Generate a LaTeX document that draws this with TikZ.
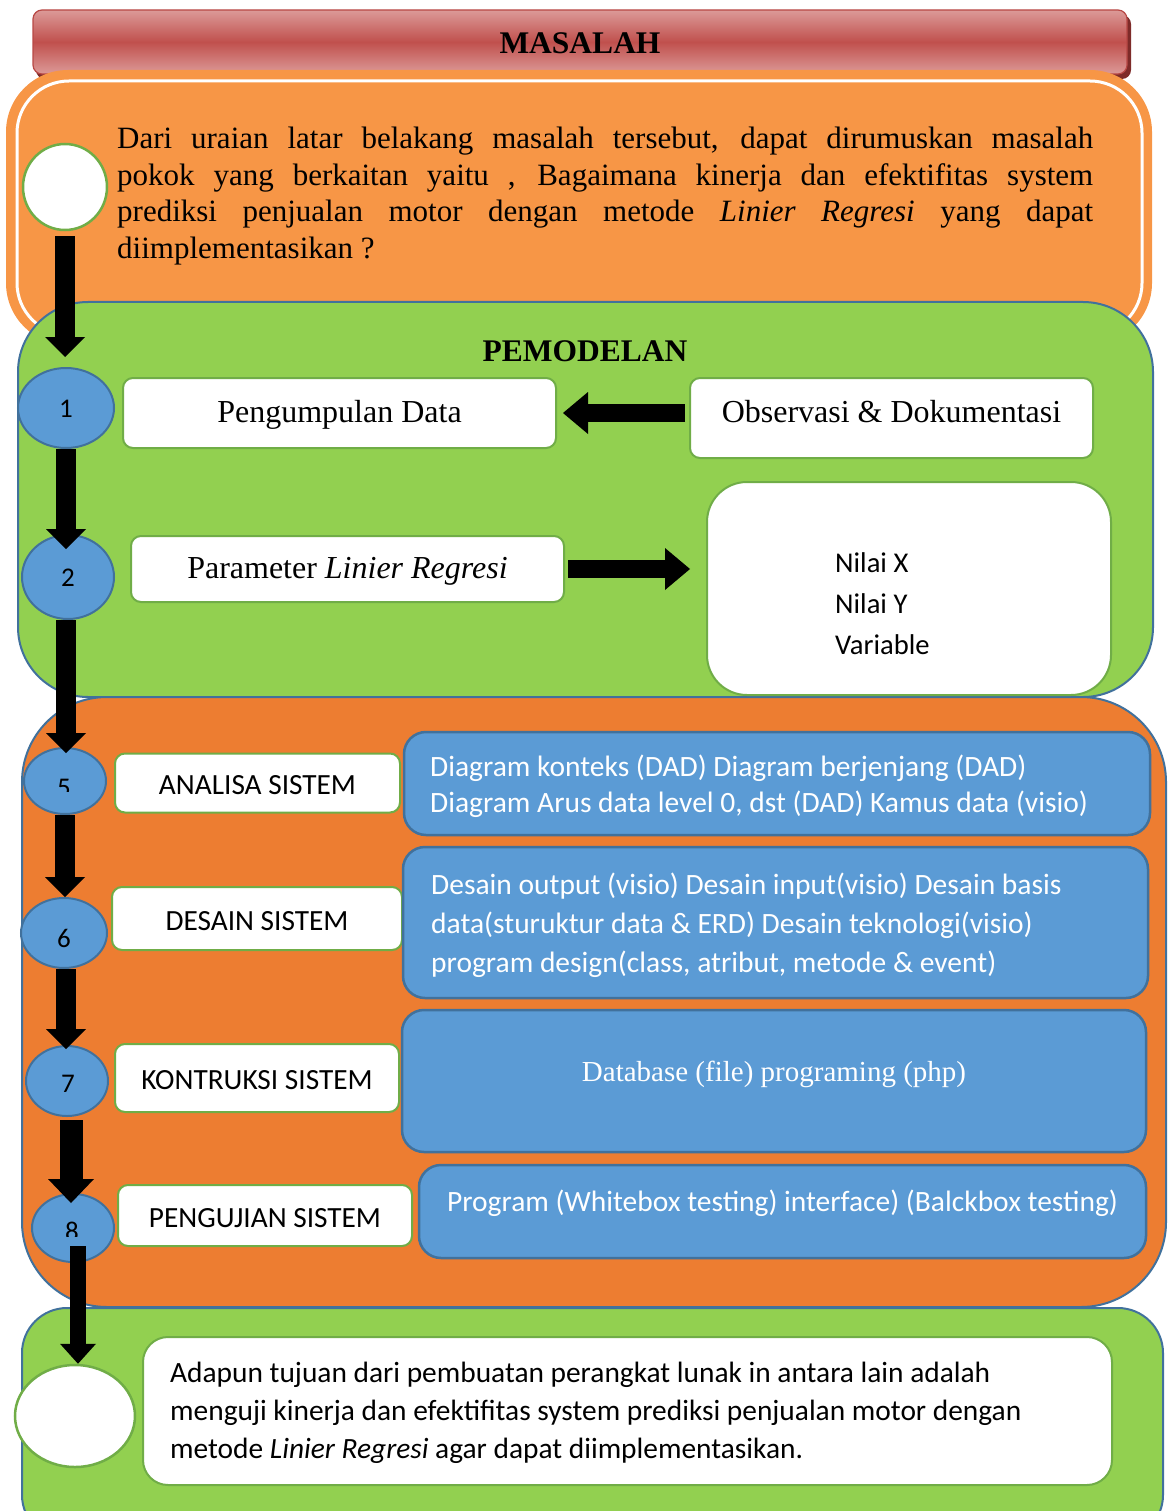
\documentclass[tikz,border=0pt]{standalone}
\usepackage{fontspec}
\setmainfont{Liberation Serif}
\newfontfamily\calibri{Carlito}
\usetikzlibrary{arrows.meta,shapes.geometric}

\definecolor{titleLight}{HTML}{DC9A98}
\definecolor{titleDark}{HTML}{C0504D}
\definecolor{titleEdge}{HTML}{B84845}
\definecolor{titleShadow}{HTML}{7E2B29}
\definecolor{orangeA}{HTML}{F79646}
\definecolor{orangeB}{HTML}{ED7D31}
\definecolor{greenA}{HTML}{92D050}
\definecolor{blueA}{HTML}{5B9BD5}
\definecolor{blueEdge}{HTML}{41719C}
\definecolor{greenEdge}{HTML}{70AD47}

\tikzset{
  headline/.style={font=\bfseries\fontsize{31.5}{37}\selectfont, inner sep=0pt},
  seriflabel/.style={font=\fontsize{32}{37}\selectfont},
  sanslabel/.style={font=\calibri\fontsize{29.3}{34}\selectfont, text height=23pt, text depth=0pt},
  whitebox/.style={rectangle, rounded corners=10pt, draw=greenEdge, fill=white, line width=2pt, inner sep=0pt},
  bluebox/.style={rectangle, rounded corners=22pt, draw=blueEdge, fill=blueA, line width=2.5pt, inner sep=0pt},
  numcirc/.style={ellipse, draw=blueEdge, fill=blueA, line width=2pt, inner sep=0pt},
  emptycirc/.style={ellipse, draw=greenEdge, fill=white, line width=2.5pt, inner sep=0pt},
  numtext/.style={font=\calibri\fontsize{27}{30}\selectfont, inner sep=0pt},
  panel/.style={draw=blueEdge, line width=2pt},
  fatarrow/.style={line width=20pt, -{Triangle[length=20pt,width=40pt,line width=0pt]}},
  fatarrowwide/.style={line width=23pt, -{Triangle[length=24pt,width=46pt,line width=0pt]}},
  fatarrowthin/.style={line width=16pt, -{Triangle[length=20pt,width=36pt,line width=0pt]}},
  sidearrow/.style={line width=18pt, -{Triangle[length=25pt,width=42pt,line width=0pt]}},
}

\begin{document}
\begin{tikzpicture}[x=1pt,y=-1pt]
\clip (0,0) rectangle (1168,1511);

% title banner
\fill[titleShadow, rounded corners=9pt] (36,15) rectangle (1131,79);
\shade[rounded corners=9pt, top color=titleLight, bottom color=titleLight, middle color=titleDark]
  (33,10) rectangle (1127,74);
\draw[titleEdge, line width=1.2pt, rounded corners=9pt] (33,10) rectangle (1127,74);
\node[headline] (title) at (580,43) {MASALAH};

% problem panel
\fill[orangeA, rounded corners=62pt] (6,70) rectangle (1152,345);
\draw[white, line width=3pt, rounded corners=52pt] (17,81) rectangle (1142,335);

% modelling panel
\draw[panel, fill=greenA, rounded corners=70pt] (18,302) rectangle (1153,697);

% system development panel
\draw[panel, fill=orangeB, rounded corners=85pt] (22,697) rectangle (1166,1307);

% goal panel
\draw[panel, fill=greenA, rounded corners=45pt] (22,1308) rectangle (1163,1540);

% problem statement
\node[anchor=north west, text width=976pt, align=justify, inner sep=0pt,
      font=\fontsize{31}{36.5}\selectfont] (problem) at (117,127)
  {\hyphenpenalty=10000 Dari uraian latar belakang masalah tersebut, dapat dirumuskan masalah\linebreak
   pokok yang berkaitan yaitu , Bagaimana kinerja dan efektifitas system\linebreak
   prediksi penjualan motor dengan metode \textit{Linier Regresi} yang dapat\linebreak
   diimplementasikan ?};
\node[emptycirc, minimum width=84pt, minimum height=86pt] (c0) at (65,187) {};

% modelling
\node[headline] (pem) at (585,351) {PEMODELAN};
\node[numcirc, minimum width=96pt, minimum height=80pt] (c1) at (66,408) {};
\node[numtext] (n1) at (66,409) {1};
\node[whitebox, seriflabel, text height=26pt, text depth=7pt, minimum width=433pt, minimum height=70pt] (pd) at (339.5,413) {Pengumpulan Data};
\node[whitebox, seriflabel, minimum width=403pt, minimum height=80pt, text height=21pt, text depth=13pt] (obs) at (891.5,418) {Observasi \& Dokumentasi};

\node[numcirc, minimum width=92pt, minimum height=84pt] (c2) at (68,577) {};
\node[numtext] (n2) at (68,578) {2};
\node[whitebox, seriflabel, text height=26pt, text depth=7pt, minimum width=433pt, minimum height=66pt] (param) at (347.5,569) {Parameter \textit{Linier Regresi}};
\node[whitebox, rounded corners=40pt, minimum width=404pt, minimum height=213pt] (nilai) at (909,588.5) {};
\node[anchor=west, align=left, inner sep=0pt, font=\calibri\fontsize{28.6}{41}\selectfont] (nilaitext) at (835,604)
  {Nilai X\\Nilai Y\\Variable};

% system development steps
\node[numcirc, minimum width=82pt, minimum height=66pt] (c5) at (65,781) {};
\begin{scope}
  \clip (20,745) rectangle (110,791);
  \node[numtext] (n5) at (64,788) {5};
\end{scope}
\node[whitebox, sanslabel, minimum width=285pt, minimum height=59pt] (analisa) at (257.5,783) {ANALISA SISTEM};
\node[bluebox, minimum width=746pt, minimum height=103pt] (b1) at (777,783.5) {};
\node[text=white, anchor=west, align=left, inner sep=0pt, font=\calibri\fontsize{29.5}{36}\selectfont] (b1text) at (430,786)
  {Diagram konteks (DAD) Diagram berjenjang (DAD)\\Diagram Arus data level 0, dst (DAD) Kamus data (visio)};

\node[numcirc, minimum width=86pt, minimum height=70pt] (c6) at (64,933) {};
\node[numtext] (n6) at (64,938) {6};
\node[whitebox, sanslabel, minimum width=290pt, minimum height=63pt] (desain) at (257,918.5) {DESAIN SISTEM};
\node[bluebox, minimum width=745pt, minimum height=151pt] (b2) at (775.5,922.5) {};
\node[text=white, anchor=west, align=left, inner sep=0pt, font=\calibri\fontsize{29.5}{39}\selectfont] (b2text) at (431,925)
  {Desain output (visio) Desain input(visio) Desain basis\\data(sturuktur data \& ERD) Desain teknologi(visio)\\program design(class, atribut, metode \& event)};

\node[numcirc, minimum width=82pt, minimum height=70pt] (c7) at (67,1081) {};
\node[numtext] (n7) at (68,1084) {7};
\node[whitebox, sanslabel, minimum width=284pt, minimum height=68pt] (kontruksi) at (257,1078) {KONTRUKSI SISTEM};
\node[bluebox, text=white, font=\fontsize{29}{34}\selectfont, text height=20pt, text depth=20pt, minimum width=744pt, minimum height=142pt] (b3) at (774,1081)
  {Database (file) programing (php)};

\node[numcirc, minimum width=82pt, minimum height=68pt] (c8) at (73,1228) {};
\begin{scope}
  \clip (25,1190) rectangle (120,1236);
  \node[numtext] (n8) at (72,1231) {8};
\end{scope}
\node[whitebox, sanslabel, minimum width=294pt, minimum height=61pt] (uji) at (265,1215.5) {PENGUJIAN SISTEM};
\node[bluebox, text=white, font=\calibri\fontsize{29.5}{34}\selectfont, text height=20pt, text depth=20pt, minimum width=727pt, minimum height=93pt] (b4) at (782.5,1211.5)
  {Program (Whitebox testing) interface) (Balckbox testing)};

% goal
\node[emptycirc, minimum width=120pt, minimum height=102pt] (c9) at (75,1416) {};
\node[whitebox, rounded corners=25pt, minimum width=969pt, minimum height=148pt] (goal) at (627.5,1411) {};
\node[anchor=west, align=left, inner sep=0pt, font=\calibri\fontsize{29.4}{38}\selectfont] (goaltext) at (170,1413)
  {Adapun tujuan dari pembuatan perangkat lunak in antara lain adalah\\
   menguji kinerja dan efektifitas system prediksi penjualan motor dengan\\
   metode \textit{Linier Regresi} agar dapat diimplementasikan.};

% flow arrows
\draw[fatarrow, shorten <=5pt, shorten >=10pt] (c0.south) -- (c0.south |- c1.north);
\draw[fatarrow, shorten >=-15pt] (c1.south) -- (c1.south |- c2.north);
\draw[fatarrow, shorten >=-6pt] (c2.south -| c1.south) -- (c1.south |- c5.north);
\draw[fatarrow] (c5.south) -- (c5.south |- c6.north);
\draw[fatarrow, shorten >=-4pt] ([xshift=2pt]c6.south) -- ([xshift=2pt]c6.south |- c7.north);
\draw[fatarrowwide, shorten <=3pt, shorten >=-10pt] ([xshift=4pt]c7.south) -- ([xshift=4pt]c7.south |- c8.north);
\draw[fatarrowthin, shorten <=-17pt] ([xshift=5pt]c8.south) -- ([xshift=5pt]c8.south |- c9.north);
\draw[sidearrow, shorten <=4pt, shorten >=6pt] (obs.west |- pd.east) -- (pd.east);
\draw[sidearrow, shorten <=3pt, shorten >=16pt] (param.east) -- (param.east -| nilai.west);
\end{tikzpicture}
\end{document}
